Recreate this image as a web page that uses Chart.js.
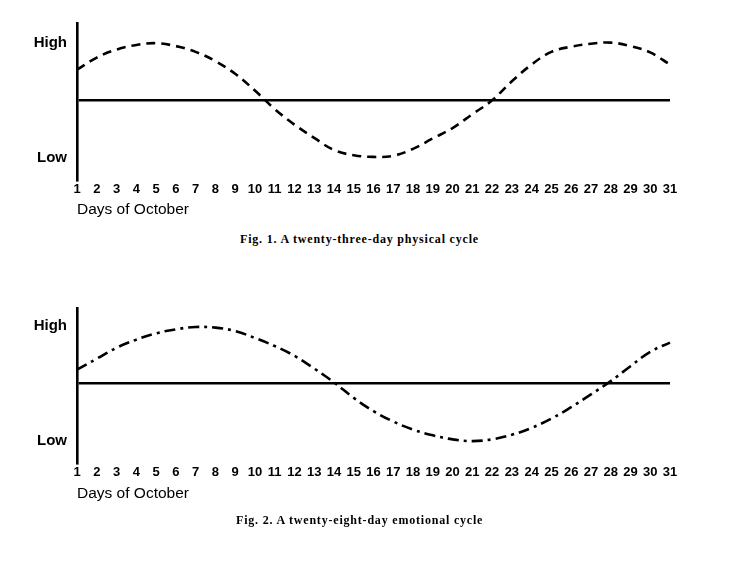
<!DOCTYPE html>
<html>
<head>
<meta charset="utf-8">
<script src="https://cdn.jsdelivr.net/npm/chart.js@4/dist/chart.umd.min.js"></script>
<style>
  body { margin: 0; background: #fff; }
  .wrap { position: absolute; left: 0; width: 744px; height: 230px; }
  .cap { position: absolute; font-family: "Liberation Serif", serif; font-weight: bold; font-size: 12px; letter-spacing: 0.8px; color: #000; white-space: nowrap; }
</style>
</head>
<body>
<div class="wrap" style="top:0"><canvas id="physical"></canvas></div>
<div class="cap" style="left:240px; top:232px">Fig. 1. A twenty-three-day physical cycle</div>
<div class="wrap" style="top:285px"><canvas id="emotional"></canvas></div>
<div class="cap" style="left:236px; top:513px">Fig. 2. A twenty-eight-day emotional cycle</div>
<script>
  // days of October
  const days = ['1','2','3','4','5','6','7','8','9','10','11','12','13','14','15','16',
    '17','18','19','20','21','22','23','24','25','26','27','28','29','30','31'];
  // +1 = High, -1 = Low
  const physical = [0.53, 0.74, 0.88, 0.96, 0.99, 0.94, 0.84, 0.68, 0.46, 0.17, -0.15,
    -0.42, -0.65, -0.86, -0.95, -0.98, -0.96, -0.84, -0.66, -0.48, -0.24, 0.0, 0.33,
    0.62, 0.84, 0.93, 0.98, 1.0, 0.94, 0.83, 0.62];
  const emotional = [0.24, 0.43, 0.62, 0.76, 0.87, 0.94, 0.98, 0.97, 0.91, 0.79, 0.65,
    0.48, 0.26, 0.02, -0.25, -0.48, -0.66, -0.8, -0.9, -0.97, -1.0, -0.97, -0.89, -0.77,
    -0.61, -0.41, -0.19, 0.04, 0.3, 0.55, 0.71];
  const levelTicks = [-1, 0, 1];
  const levelLabels = { '1': 'High', '-1': 'Low' };

  Chart.defaults.font.family = '"Liberation Sans", Arial, sans-serif';
  Chart.defaults.color = '#000';

  function cycleChart(id, values, dash, yMin, yMax, xHeight, titlePad) {
    return new Chart(document.getElementById(id), {
      type: 'line',
      data: {
        labels: days,
        datasets: [{
          data: values,
          borderColor: '#000',
          borderWidth: 2.6,
          borderDash: dash,
          pointRadius: 0,
          tension: 0.4,
          fill: false
        }]
      },
      options: {
        responsive: true,
        maintainAspectRatio: false,
        animation: false,
        layout: { padding: { top: 23, right: 74, left: 0, bottom: 0 } },
        plugins: { legend: { display: false }, tooltip: { enabled: false } },
        scales: {
          x: {
            offset: false,
            grid: { display: false, drawTicks: false },
            border: { display: false },
            ticks: {
              autoSkip: false, maxRotation: 0, padding: 2,
              font: { size: 13, weight: 'bold' }
            },
            title: {
              display: true, text: 'Days of October', align: 'start',
              font: { size: 15.5 }, padding: { top: 0, bottom: titlePad }
            },
            afterFit: s => { s.height = xHeight; }
          },
          y: {
            min: yMin, max: yMax,
            afterBuildTicks: s => { s.ticks = levelTicks.map(v => ({ value: v })); },
            afterFit: s => { s.width = 77; },
            ticks: {
              padding: 10,
              font: { size: 15, weight: 'bold' },
              callback: v => levelLabels[String(v)] || ''
            },
            grid: {
              drawTicks: false,
              lineWidth: 2.6,
              color: c => (c.tick && c.tick.value === 0) ? '#000' : 'rgba(0,0,0,0)'
            },
            border: { display: true, color: '#000', width: 2.6 }
          }
        }
      }
    });
  }

  cycleChart('physical', physical, [9, 6], -1.38, 1.34, 50, 11);
  cycleChart('emotional', emotional, [11, 5, 3, 5], -1.38, 1.31, 52, 12);
</script>
</body>
</html>
